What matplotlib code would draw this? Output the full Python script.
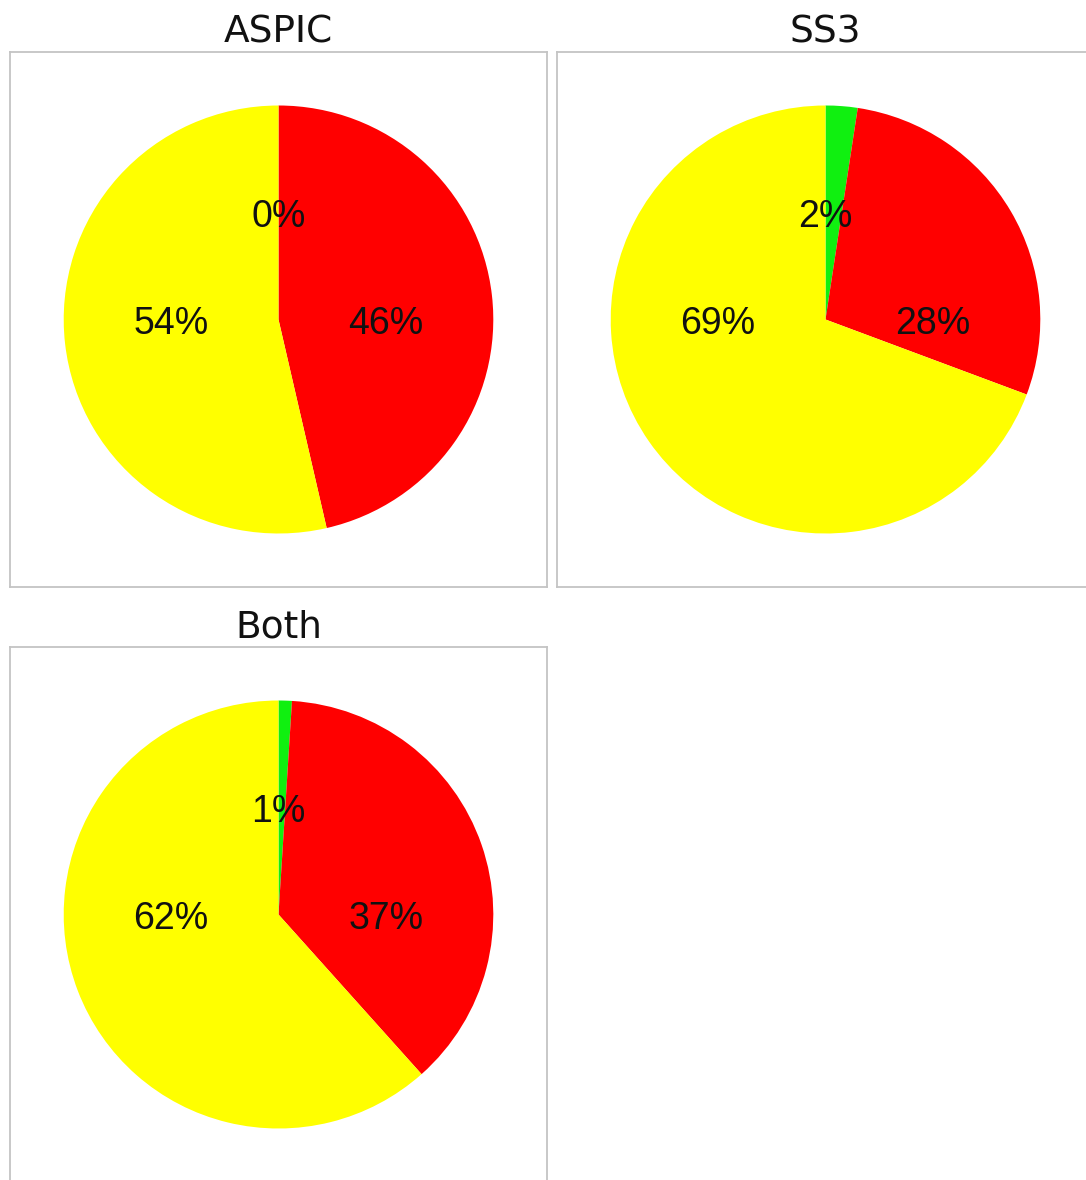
import matplotlib.pyplot as plt

# shares of each status class per model (green, red, yellow)
titles = ["ASPIC", "SS3", "Both"]
aspic = [0.0, 46.4, 53.6]
ss3 = [2.4, 28.3, 69.3]
both = [1.0, 37.4, 61.6]
colors = ["#10f010", "#ff0000", "#ffff00"]

fig = plt.figure(figsize=(10.86, 11.8), dpi=100)
W, H = 1086, 1180

# panel frames in pixels: left, top, width, height
boxes = [(10, 52, 537, 535), (557, 52, 537, 535), (10, 647, 537, 535)]
# label spots: green on top, red right, yellow left
spots = [(0, 0.48), (0.5, -0.02), (-0.5, -0.02)]

for title, vals, (x, y, w, h) in zip(titles, [aspic, ss3, both], boxes):
    ax = fig.add_axes([x / W, 1 - (y + h) / H, w / W, h / H])
    ax.pie(vals, colors=colors, startangle=90, counterclock=False,
           wedgeprops=dict(linewidth=0), frame=True)
    tot = sum(vals)
    for v, (tx, ty) in zip(vals, spots):
        ax.text(tx, ty, f"{v / tot * 100:.0f}%", ha="center", va="center",
                fontsize=27, family="Liberation Sans", color="#111111")
    ax.set_xlim(-1.25, 1.25)
    ax.set_ylim(-1.25, 1.25)
    ax.set_aspect("auto")
    ax.set_xticks([])
    ax.set_yticks([])
    for s in ax.spines.values():
        s.set_visible(True)
        s.set_color("#c4c4c4")
        s.set_linewidth(1.3)
    ax.set_title(title, fontsize=27, family="DejaVu Sans", pad=7, color="#111111")

fig.savefig("out.png", dpi=100)
